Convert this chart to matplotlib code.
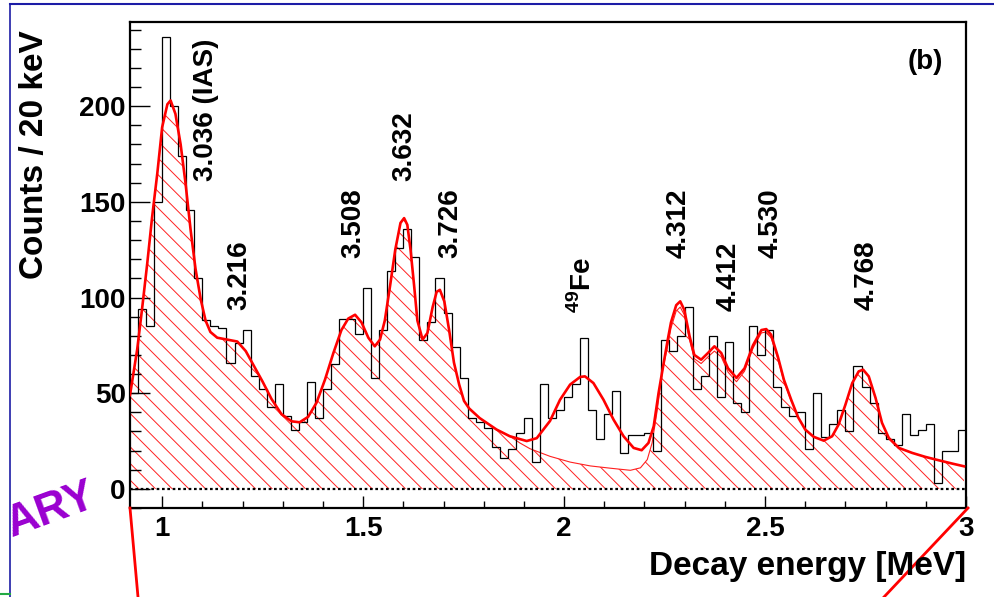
import numpy as np
import matplotlib
matplotlib.use("Agg")
import matplotlib.pyplot as plt
from matplotlib.lines import Line2D
from matplotlib.ticker import MultipleLocator

plt.rcParams['font.family'] = ['Liberation Sans', 'DejaVu Sans']
plt.rcParams['font.weight'] = 'bold'
plt.rcParams['mathtext.fontset'] = 'custom'
plt.rcParams['mathtext.rm'] = 'Liberation Sans:bold'
plt.rcParams['mathtext.bf'] = 'Liberation Sans:bold'
plt.rcParams['hatch.linewidth'] = 0.7

# ---------------- data ----------------
bin_start = 0.92
bin_width = 0.02
counts = [50, 94, 85, 150, 236, 200, 174, 146, 110, 88,
          85, 84, 66, 76, 83, 59, 52, 43, 55, 38,
          31, 35, 56, 37, 52, 65, 89, 89, 81, 105,
          58, 83, 114, 126, 136, 121, 78, 87, 110, 92,
          74, 58, 37, 35, 32, 22, 16, 21, 29, 37,
          14, 55, 37, 41, 48, 55, 79, 41, 26, 39,
          51, 19, 28, 28, 29, 20, 78, 72, 80, 95,
          52, 59, 80, 48, 77, 45, 40, 85, 70, 83,
          53, 43, 38, 40, 21, 50, 27, 34, 41, 30,
          64, 53, 45, 29, 26, 23, 39, 28, 31, 34,
          3, 20, 20, 31]

fit_E = [0.920, 0.938, 0.950, 0.963, 0.975, 0.988, 1.000, 1.013, 1.021, 1.033,
         1.046, 1.058, 1.071, 1.083, 1.096, 1.108, 1.120, 1.137, 1.162, 1.187,
         1.208, 1.229, 1.250, 1.272, 1.297, 1.322, 1.342, 1.363, 1.384, 1.405,
         1.426, 1.446, 1.463, 1.480, 1.496, 1.513, 1.529, 1.542, 1.554, 1.567,
         1.580, 1.593, 1.602, 1.610, 1.618, 1.627, 1.635, 1.648, 1.660, 1.673,
         1.683, 1.691, 1.702, 1.714, 1.726, 1.739, 1.751, 1.764, 1.790, 1.832,
         1.865, 1.907, 1.932, 1.965, 1.990, 2.015, 2.040, 2.052, 2.073, 2.098,
         2.123, 2.148, 2.173, 2.193, 2.210, 2.223, 2.235, 2.248, 2.258, 2.266,
         2.279, 2.289, 2.299, 2.312, 2.324, 2.341, 2.358, 2.374, 2.391, 2.408,
         2.429, 2.449, 2.470, 2.491, 2.503, 2.515, 2.532, 2.547, 2.565, 2.582,
         2.600, 2.621, 2.646, 2.667, 2.683, 2.700, 2.717, 2.733, 2.744, 2.758,
         2.775, 2.791, 2.808, 2.833, 2.866, 2.899, 2.933, 2.966, 2.995]
fit_counts = [49, 73, 94, 118, 142, 165, 189, 201, 203, 196,
              180, 160, 135, 115, 99, 88, 82, 79, 78, 77,
              72, 64, 56, 47, 39, 35.3, 34.8, 37.6, 45, 57,
              71, 83, 89, 91, 87, 79, 74.5, 78, 88, 106,
              125, 139, 141.5, 138, 125, 106, 88, 78, 81.5, 95,
              103, 104, 98, 83, 66, 54.5, 46, 42, 37, 31,
              27.5, 25, 26.5, 35.5, 46.6, 54.5, 58.5, 58.8, 55.3, 46.6,
              36.2, 27.5, 21.4, 20.2, 24, 32.7, 50, 66, 78, 87,
              96, 98, 93.6, 80, 70, 67.5, 71, 74.5, 71, 63,
              58, 63, 75, 83, 83.5, 80.6, 69, 57, 46.6, 37.5,
              31, 27.2, 25.2, 27.5, 33.6, 44, 55.3, 61.4, 62.3, 58.8,
              47.5, 34.5, 26.6, 21.4, 18.8, 16.7, 14.9, 13.2, 11.8]

# fit without the 49Fe component (upper edge of hatched area)
bg_E = [1.865, 1.890, 1.915, 1.965, 2.015, 2.065, 2.115, 2.165, 2.190, 2.207,
        2.219, 2.231, 2.245, 2.258, 2.266, 2.279, 2.289, 2.299, 2.312, 2.324,
        2.341, 2.358, 2.374, 2.391, 2.408, 2.429, 2.449, 2.470, 2.491, 2.503,
        2.515, 2.532, 2.547, 2.565]
bg_counts = [27.5, 24, 21, 17, 14, 12, 10.8, 9.7, 11, 15.3,
             24, 40, 62, 75, 84, 93, 95, 91, 78, 68,
             65.5, 69, 72, 69, 61, 56, 61.5, 73.5, 81.5, 82,
             79, 68, 56, 46]

peak_labels = ['3.036 (IAS)', '3.216', '3.508', '3.632', '3.726',
               r'$^{49}$Fe', '4.312', '4.412', '4.530', '4.768']
label_E = [1.109, 1.193, 1.476, 1.603, 1.716, 2.047, 2.286, 2.409, 2.514, 2.753]
label_y = [161, 93.6, 120.6, 161, 120.6, 92, 120.6, 92.7, 120.6, 93.6]

# ---------------- figure ----------------
W, H = 994, 597
fig = plt.figure(figsize=(W / 100, H / 100), dpi=100)
ax = fig.add_axes([130 / W, 1 - 508 / H, (966 - 130) / W, (508 - 22) / H])

edges = bin_start + bin_width * np.arange(len(counts) + 1)

# hatched area: full fit outside the 49Fe region, background-only curve inside
fit_E_a = np.array(fit_E)
fit_c_a = np.array(fit_counts)
mask = (fit_E_a < bg_E[0]) | (fit_E_a > bg_E[-1])
fill_E = np.concatenate([fit_E_a[mask], bg_E])
fill_c = np.concatenate([fit_c_a[mask], bg_counts])
order = np.argsort(fill_E)
fill_E = fill_E[order]
fill_c = fill_c[order]
ax.fill_between(fill_E, 0, fill_c, facecolor='none', edgecolor='#ff2020',
                hatch='\\\\', linewidth=0, zorder=1)
ax.plot(bg_E, bg_counts, color='#ff2020', lw=0.8, zorder=2)

ax.stairs(counts, edges, baseline=None, color='black', lw=0.9, zorder=3)
ax.plot(fit_E, fit_counts, color='#ff0000', lw=1.9, zorder=4,
        solid_joinstyle='round')
ax.axhline(0, color='black', lw=1.6, ls=(0, (1.2, 1.2)), zorder=5)

ax.set_xlim(0.92, 3.0)
ax.set_ylim(-10, 244)
ax.xaxis.set_major_locator(MultipleLocator(0.5))
ax.xaxis.set_minor_locator(MultipleLocator(0.1))
ax.yaxis.set_major_locator(MultipleLocator(50))
ax.yaxis.set_minor_locator(MultipleLocator(10))
ax.xaxis.set_major_formatter(plt.FuncFormatter(lambda v, p: f"{v:g}"))

ax.tick_params(axis='both', which='both', direction='in', top=False, right=False,
               width=1.0, labelsize=20)
ax.tick_params(axis='y', which='major', length=14.5, pad=3)
ax.tick_params(axis='y', which='minor', length=8)
ax.tick_params(axis='x', which='major', length=9, pad=6)
ax.tick_params(axis='x', which='minor', length=5)
for lab in ax.get_xticklabels() + ax.get_yticklabels():
    lab.set_fontweight('bold')
for sp in ax.spines.values():
    sp.set_linewidth(1.6)

for txt, xe, ye in zip(peak_labels, label_E, label_y):
    ax.text(xe, ye, txt, rotation=90, ha='center', va='bottom',
            fontsize=20, fontweight='bold')

ax.text(2.90, 223, '(b)', ha='center', va='center', fontsize=20, fontweight='bold')

fig.text(35 / W, 1 - 30 / H, 'Counts / 20 keV', rotation=90, ha='center', va='top',
         fontsize=24, fontweight='bold')
fig.text(966 / W, 1 - 566 / H, 'Decay energy [MeV]', ha='right', va='center',
         fontsize=24, fontweight='bold')

# slide decorations around the plot
fig.add_artist(Line2D([10 / W, 1], [1 - 4 / H, 1 - 4 / H], transform=fig.transFigure,
                      color='#1c1ca6', lw=1.5))
fig.add_artist(Line2D([10 / W, 10 / W], [0, 1 - 4 / H], transform=fig.transFigure,
                      color='#1c1ca6', lw=1.2))
fig.add_artist(Line2D([0, 10 / W], [3 / H, 3 / H], transform=fig.transFigure,
                      color='#22aa44', lw=1.5))
fig.add_artist(Line2D([130 / W, 138 / W], [1 - 508 / H, 0], transform=fig.transFigure,
                      color='#ff0000', lw=2))
fig.add_artist(Line2D([968 / W, 884 / W], [1 - 508 / H, 0], transform=fig.transFigure,
                      color='#ff0000', lw=2))
fig.text(1 / W, 1 - 545 / H, 'ARY', rotation=20, ha='left', va='bottom',
         fontsize=32, fontweight='bold', color='#9a00d0')

fig.savefig('out.png', dpi=100)
